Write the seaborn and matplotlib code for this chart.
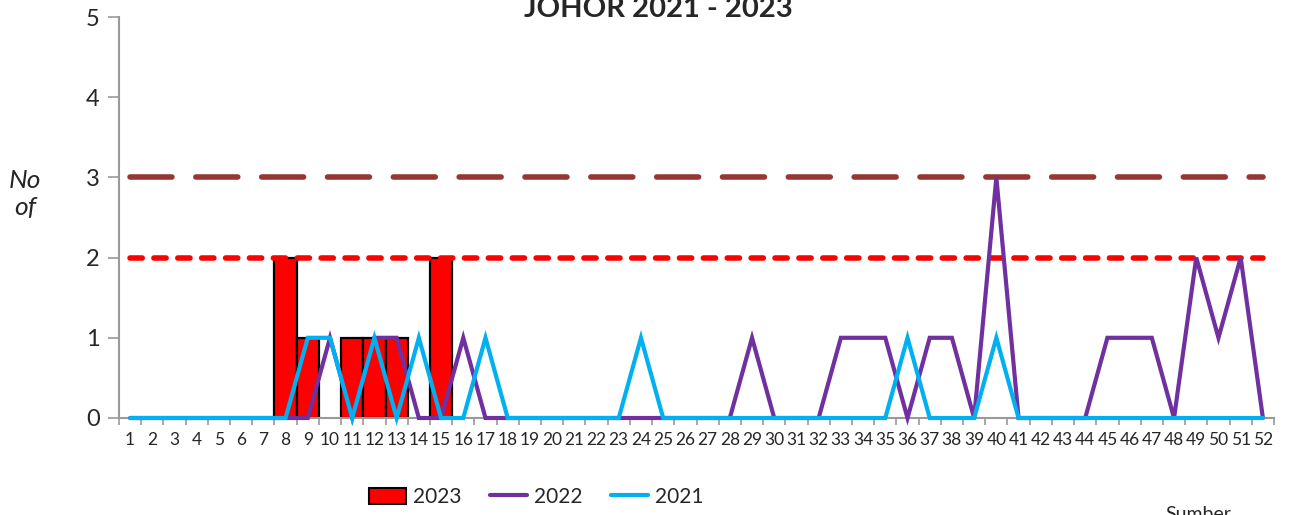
import numpy as np
import pandas as pd
import seaborn as sns
import matplotlib.pyplot as plt
from matplotlib.patches import Patch
from matplotlib.lines import Line2D

# epidemiological weeks 1..52
weeks = [str(w) for w in range(1, 53)]

cases_2023 = [0, 0, 0, 0, 0, 0, 0, 2, 1, 0,
              1, 1, 1, 0, 2]

cases_2022 = [0, 0, 0, 0, 0, 0, 0, 0, 0, 1,
              0, 1, 1, 0, 0, 1, 0, 0, 0, 0,
              0, 0, 0, 0, 0, 0, 0, 0, 1, 0,
              0, 0, 1, 1, 1, 0, 1, 1, 0, 3,
              0, 0, 0, 0, 1, 1, 1, 0, 2, 1,
              2, 0]

cases_2021 = [0, 0, 0, 0, 0, 0, 0, 0, 1, 1,
              0, 1, 0, 1, 0, 0, 1, 0, 0, 0,
              0, 0, 0, 1, 0, 0, 0, 0, 0, 0,
              0, 0, 0, 0, 0, 1, 0, 0, 0, 1,
              0, 0, 0, 0, 0, 0, 0, 0, 0, 0,
              0, 0]

upper_line = [3] * 52
alert_line = [2] * 52

title = "JOHOR 2021 - 2023"
ylabel = "No\nof"

sns.set_style("white")
plt.rcParams['font.family'] = ['Lato', 'DejaVu Sans']

W, H = 1292, 515
fig = plt.figure(figsize=(W / 100, H / 100), dpi=100)
ax = fig.add_axes([119 / W, 1 - 418 / H, (1274 - 119) / W, (418 - 17) / H])

pos = np.arange(len(weeks))

df23 = pd.DataFrame({"week": weeks[:len(cases_2023)], "cases": cases_2023})
df23 = df23[df23["cases"] > 0]
sns.barplot(data=df23, x="week", y="cases", order=weeks, color="#FF0000",
            saturation=1, width=1.0, edgecolor="black", linewidth=1.6,
            errorbar=None, ax=ax, zorder=2)

sns.lineplot(x=pos, y=upper_line, color="#953735", lw=4, ax=ax,
             linestyle=(0, (7.55, 4.3)), dash_capstyle="round", zorder=3)
sns.lineplot(x=pos, y=alert_line, color="#FF0000", lw=4, ax=ax,
             linestyle=(0, (2.2, 2.1)), dash_capstyle="round", zorder=3)
sns.lineplot(x=pos, y=cases_2022, color="#7030A0", lw=3, ax=ax,
             solid_joinstyle="miter", clip_on=False, zorder=4)
sns.lineplot(x=pos, y=cases_2021, color="#00B0F0", lw=3, ax=ax,
             solid_joinstyle="miter", clip_on=False, zorder=5)

ax.set_xlim(-0.5, 51.5)
ax.set_ylim(0, 5)
ax.set_yticks(range(6))
ax.set_xticks(pos)
ax.set_xticklabels(weeks, fontsize=12.5)
ax.set_xticks(np.arange(-0.5, 52, 1), minor=True)
ax.tick_params(axis="x", which="major", length=0, pad=10)
ax.tick_params(axis="x", which="minor", length=5, width=1.2, color="#9A9A9A",
               direction="out", bottom=True)
ax.tick_params(axis="y", length=8, width=1.2, color="#9A9A9A", direction="out",
               left=True, labelsize=17, pad=6)
ax.set_xlabel("")
ax.set_ylabel("")

for side in ["top", "right"]:
    ax.spines[side].set_visible(False)
for side in ["left", "bottom"]:
    ax.spines[side].set_color("#9A9A9A")
    ax.spines[side].set_linewidth(1.5)

fig.text(658 / W, 1 - 17 / H, title, ha="center", va="baseline",
         fontsize=21, fontweight="bold")
fig.text(25 / W, 1 - 194 / H, ylabel, ha="center", va="center",
         fontsize=19, style="italic", linespacing=1.25)
fig.text(1165 / W, 1 - 506 / H, "Sumber", ha="left", va="top", fontsize=14)

handles = [
    Patch(facecolor="#FF0000", edgecolor="black", linewidth=1.5),
    Line2D([], [], color="#7030A0", lw=3),
    Line2D([], [], color="#00B0F0", lw=3),
]
fig.legend(handles, ["2023", "2022", "2021"], loc="center",
           bbox_to_anchor=(536 / W, 1 - 497 / H), ncol=3, frameon=False,
           fontsize=15, handlelength=1.8, handleheight=0.8,
           columnspacing=1.35, handletextpad=0.33)

fig.savefig("out.png", dpi=100)
